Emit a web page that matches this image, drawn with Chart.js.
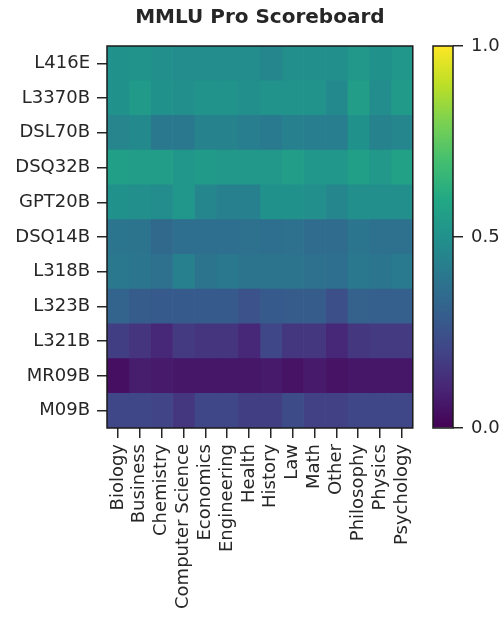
<!DOCTYPE html>
<html>
<head>
<meta charset="utf-8">
<script src="https://cdn.jsdelivr.net/npm/chart.js@4"></script>
<style>
  body { margin: 0; background: #fff; }
  #wrap { position: relative; width: 503px; height: 623px; }
  canvas { position: absolute; top: 0; }
</style>
</head>
<body>
<div id="wrap">
  <canvas id="heatmap" width="430" height="623" style="left:0"></canvas>
  <canvas id="colorbar" width="83" height="623" style="left:420px"></canvas>
</div>
<script>
const models = ["L416E", "L3370B", "DSL70B", "DSQ32B", "GPT20B", "DSQ14B", "L318B", "L323B", "L321B", "MR09B", "M09B"];
const subjects = ["Biology", "Business", "Chemistry", "Computer Science", "Economics", "Engineering", "Health",
  "History", "Law", "Math", "Other", "Philosophy", "Physics", "Psychology"];

// one row per model, same order as subjects
const scoreL416E  = [0.50, 0.51, 0.49, 0.48, 0.48, 0.48, 0.48, 0.46, 0.49, 0.49, 0.49, 0.53, 0.50, 0.52];
const scoreL3370B = [0.50, 0.54, 0.50, 0.49, 0.51, 0.51, 0.49, 0.51, 0.51, 0.51, 0.47, 0.55, 0.48, 0.54];
const scoreDSL70B = [0.45, 0.47, 0.40, 0.40, 0.44, 0.44, 0.42, 0.41, 0.43, 0.42, 0.42, 0.50, 0.44, 0.46];
const scoreDSQ32B = [0.56, 0.55, 0.55, 0.52, 0.54, 0.53, 0.53, 0.53, 0.55, 0.52, 0.52, 0.56, 0.53, 0.57];
const scoreGPT20B = [0.50, 0.49, 0.48, 0.52, 0.46, 0.43, 0.43, 0.50, 0.50, 0.49, 0.46, 0.49, 0.49, 0.49];
const scoreDSQ14B = [0.39, 0.38, 0.34, 0.36, 0.36, 0.36, 0.37, 0.36, 0.37, 0.35, 0.35, 0.39, 0.37, 0.37];
const scoreL318B  = [0.40, 0.39, 0.37, 0.43, 0.38, 0.40, 0.38, 0.38, 0.38, 0.37, 0.36, 0.40, 0.39, 0.41];
const scoreL323B  = [0.32, 0.29, 0.28, 0.28, 0.28, 0.28, 0.25, 0.28, 0.29, 0.29, 0.24, 0.31, 0.30, 0.30];
const scoreL321B  = [0.18, 0.15, 0.11, 0.17, 0.15, 0.15, 0.11, 0.21, 0.16, 0.16, 0.11, 0.16, 0.17, 0.17];
const scoreMR09B  = [0.04, 0.08, 0.07, 0.06, 0.06, 0.06, 0.06, 0.07, 0.05, 0.07, 0.05, 0.06, 0.06, 0.06];
const scoreM09B   = [0.21, 0.21, 0.20, 0.16, 0.21, 0.21, 0.18, 0.18, 0.23, 0.19, 0.19, 0.21, 0.21, 0.21];

const scores = [scoreL416E, scoreL3370B, scoreDSL70B, scoreDSQ32B, scoreGPT20B, scoreDSQ14B,
  scoreL318B, scoreL323B, scoreL321B, scoreMR09B, scoreM09B];

const cbTicks = [0, 0.5, 1];

// viridis stops, 0.0 .. 1.0 in steps of 0.1
const viridis = ["#440154", "#482475", "#414487", "#355f8d", "#2a788e", "#21918c",
  "#22a884", "#44bf70", "#7ad151", "#bddf26", "#fde725"];

function hexRgb(h) {
  return [parseInt(h.slice(1, 3), 16), parseInt(h.slice(3, 5), 16), parseInt(h.slice(5, 7), 16)];
}

function viridisColor(v) {
  v = Math.max(0, Math.min(1, v)) * 10;
  let i = Math.min(9, Math.floor(v));
  let t = v - i;
  let a = hexRgb(viridis[i]), b = hexRgb(viridis[i + 1]);
  let c = a.map((x, k) => Math.round(x + (b[k] - x) * t));
  return `rgb(${c[0]},${c[1]},${c[2]})`;
}

Chart.defaults.font.family = "'DejaVu Sans', sans-serif";
Chart.defaults.color = "#262626";

const ink = "#262626";

// frame round the plot area + title centred over it
const framePlugin = {
  id: 'frame',
  afterDraw(chart, args, opts) {
    let a = chart.chartArea;
    let c = chart.ctx;
    c.save();
    c.strokeStyle = "#1a1a1a";
    c.lineWidth = 1.5;
    c.strokeRect(a.left, a.top, a.right - a.left, a.bottom - a.top);
    if (opts.title) {
      c.fillStyle = ink;
      c.font = "bold 20px 'DejaVu Sans', sans-serif";
      c.textAlign = "center";
      c.textBaseline = "middle";
      c.fillText(opts.title, (a.left + a.right) / 2, 18);
    }
    c.restore();
  }
};

let htx = document.getElementById('heatmap').getContext('2d');

let heatmap = new Chart(htx, {
  type: "bar",
  data: {
    labels: models,
    datasets: subjects.map((s, j) => ({
      label: s,
      data: models.map(() => 1),
      backgroundColor: ctx => viridisColor(scores[ctx.dataIndex][j]),
      borderWidth: 0,
      barPercentage: 1,
      categoryPercentage: 1,
    }))
  },
  options: {
    indexAxis: 'y',
    responsive: false,
    animation: false,
    layout: { padding: { top: 46, right: 15, left: 0, bottom: 0 } },
    plugins: {
      legend: { display: false },
      tooltip: { enabled: false },
      frame: { title: "MMLU Pro Scoreboard" },
    },
    scales: {
      x: {
        type: 'linear',
        stacked: true,
        min: 0,
        max: subjects.length,
        afterBuildTicks: scale => {
          scale.ticks = subjects.map((s, i) => ({ value: i + 0.5 }));
        },
        afterFit: scale => { scale.height = 195; },
        ticks: {
          autoSkip: false,
          minRotation: 90,
          maxRotation: 90,
          padding: 6,
          font: { size: 18 },
          color: ink,
          callback: (v, i) => subjects[i],
        },
        grid: { drawOnChartArea: false, tickLength: 10, color: ink, lineWidth: 1.5 },
        border: { display: false },
      },
      y: {
        stacked: true,
        afterFit: scale => { scale.width = 107; },
        ticks: { font: { size: 18 }, color: ink, padding: 7 },
        grid: { offset: false, drawOnChartArea: false, tickLength: 10, color: ink, lineWidth: 1.5 },
        border: { display: false },
      }
    }
  },
  plugins: [framePlugin]
});

let ctb = document.getElementById('colorbar').getContext('2d');

let colorbar = new Chart(ctb, {
  type: "bar",
  data: {
    labels: [""],
    datasets: [{
      data: [1],
      borderWidth: 0,
      barPercentage: 1,
      categoryPercentage: 1,
      backgroundColor: ctx => {
        let a = ctx.chart.chartArea;
        if (!a) return viridis[5];
        let g = ctx.chart.ctx.createLinearGradient(0, a.bottom, 0, a.top);
        viridis.forEach((c, i) => g.addColorStop(i / 10, c));
        return g;
      },
    }]
  },
  options: {
    responsive: false,
    animation: false,
    layout: { padding: { top: 46, left: 13, right: 0, bottom: 195 } },
    plugins: {
      legend: { display: false },
      tooltip: { enabled: false },
      frame: {},
    },
    scales: {
      x: { display: false },
      y: {
        position: 'right',
        min: 0,
        max: 1,
        afterBuildTicks: scale => {
          scale.ticks = cbTicks.map(v => ({ value: v }));
        },
        afterFit: scale => { scale.width = 50; },
        ticks: {
          font: { size: 18 },
          color: ink,
          padding: 8,
          callback: v => v.toFixed(1),
        },
        grid: { drawOnChartArea: false, tickLength: 10, color: ink, lineWidth: 1.5 },
        border: { display: false },
      }
    }
  },
  plugins: [framePlugin]
});
</script>
</body>
</html>
